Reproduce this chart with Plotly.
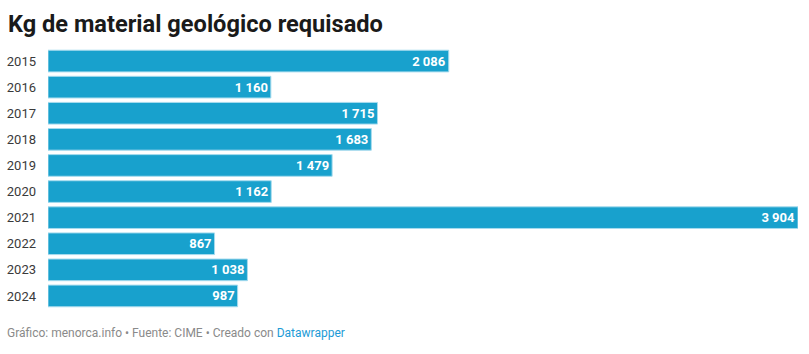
import plotly.graph_objects as go

years = ["2015", "2016", "2017", "2018", "2019", "2020", "2021", "2022", "2023", "2024"]
kg = [2086, 1160, 1715, 1683, 1479, 1162, 3904, 867, 1038, 987]

labels = [f"{v:,}".replace(",", " ") for v in kg]

W, H = 809, 354
ml, mr, mt, mb = 48, 11, 48, 45
plot_h = H - mt - mb
plot_w = W - ml - mr

fig = go.Figure(go.Bar(
    y=years, x=kg, orientation="h",
    marker=dict(color="#18a1cd", line=dict(color="#a6dbee", width=1)),
    text=labels, textposition="inside", insidetextanchor="end",
    textfont=dict(family="Roboto", size=13, color="white", weight="bold"),
    constraintext="none", cliponaxis=False, hoverinfo="skip",
))

fig.update_layout(
    width=W, height=H, margin=dict(l=ml, r=mr, t=mt, b=mb, autoexpand=False),
    paper_bgcolor="white", plot_bgcolor="white",
    bargap=0.17, showlegend=False,
    font=dict(family="Roboto", color="#333333"),
    xaxis=dict(range=[0, max(kg)], visible=False, fixedrange=True, automargin=False),
    yaxis=dict(autorange="reversed", showgrid=False, zeroline=False, showline=False,
               ticks="", ticklabelstandoff=11, automargin=False,
               tickfont=dict(family="Roboto", size=13, color="#3a3a3a")),
)

fig.add_annotation(
    text="<b>Kg de material geológico requisado</b>",
    xref="paper", yref="paper", x=(6 - ml) / plot_w, y=1 + (mt - 24.5) / plot_h,
    xanchor="left", yanchor="middle", showarrow=False,
    font=dict(family="Roboto", size=23.6, color="#1a1a1a"),
)

fig.add_annotation(
    text="Gráfico: menorca.info • Fuente: CIME • Creado con <span style='color:#1d9bd6'>Datawrapper</span>",
    xref="paper", yref="paper", x=(5 - ml) / plot_w, y=-(333 - (H - mb)) / plot_h,
    xanchor="left", yanchor="middle", showarrow=False,
    font=dict(family="Roboto", size=12, color="#8a8a8a"),
)

fig.write_html("out.html")
